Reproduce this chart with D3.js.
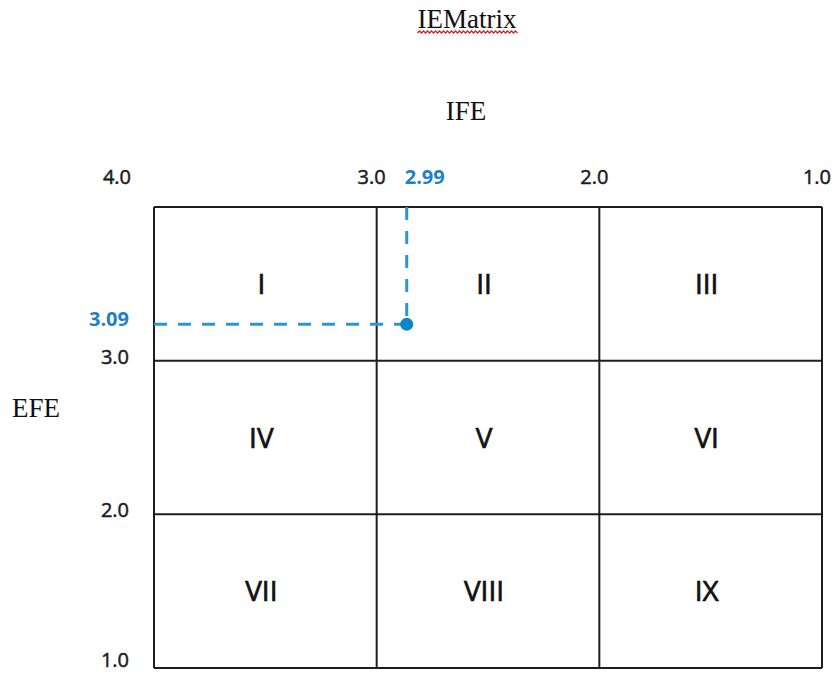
<!DOCTYPE html>
<html>
<head>
<meta charset="utf-8">
<script src="https://cdn.jsdelivr.net/npm/d3@7"></script>
<style>
  body { margin: 0; background: #fff; }
  svg { display: block; }
</style>
</head>
<body>
<svg id="chart"></svg>
<script>
// IE matrix: IFE on x (4 -> 1), EFE on y (1 -> 4)
const gridTicks = [4.0, 3.0, 2.0, 1.0];
const tickLabels = ["4.0", "3.0", "2.0", "1.0"];
const zoneLabels = ["I", "II", "III", "IV", "V", "VI", "VII", "VIII", "IX"];
// dot is drawn where the source puts it; labels carry the stated scores
const pointIFE = [2.865];
const pointEFE = [3.237];
const pointLabels = ["2.99", "3.09"];

const width = 839, height = 673;
const svg = d3.select("#chart").attr("width", width).attr("height", height);

const x = d3.scaleLinear().domain([4, 1]).range([154, 822]);
const y = d3.scaleLinear().domain([1, 4]).range([668, 207]);

const sans = "'Open Sans', 'Noto Sans', sans-serif";
const serif = "'Liberation Serif', 'DejaVu Serif', serif";
const blue = "#1f80c6";

// title with the spell-check squiggle
const title = svg.append("text")
    .attr("x", 467).attr("y", 28)
    .attr("text-anchor", "middle")
    .attr("font-family", serif).attr("font-size", 27)
    .attr("fill", "#111")
    .text("IEMatrix");
const tb = title.node().getBBox();
let wave = `M${tb.x},33`;
for (let i = 0, px = tb.x; px < tb.x + tb.width; i++) {
    px += 2;
    wave += ` L${px},${i % 2 ? 33 : 31}`;
}
svg.append("path").attr("d", wave)
    .attr("fill", "none").attr("stroke", "#e0201e").attr("stroke-width", 1.3);

svg.append("text")
    .attr("x", 466).attr("y", 120)
    .attr("text-anchor", "middle")
    .attr("font-family", serif).attr("font-size", 27)
    .attr("fill", "#111")
    .text("IFE");

svg.append("text")
    .attr("x", 12).attr("y", 417)
    .attr("font-family", serif).attr("font-size", 27)
    .attr("fill", "#111")
    .text("EFE");

// grid
const grid = svg.append("g").attr("stroke", "#1e1e1e").attr("stroke-width", 2);
grid.selectAll(".v").data(gridTicks).enter().append("line")
    .attr("x1", d => x(d)).attr("x2", d => x(d))
    .attr("y1", y(4)).attr("y2", y(1));
grid.selectAll(".h").data(gridTicks).enter().append("line")
    .attr("x1", x(4)).attr("x2", x(1))
    .attr("y1", d => y(d)).attr("y2", d => y(d));

// top tick labels (the 4.0 corner label sits in the left label column)
svg.selectAll(".xtick").data(gridTicks).enter().append("text")
    .attr("x", (d, i) => i === 0 ? 131 : x(d) + 9)
    .attr("y", 184)
    .attr("text-anchor", "end")
    .attr("font-family", sans).attr("font-size", 20)
    .attr("fill", "#1c1c24").attr("stroke", "#1c1c24").attr("stroke-width", 0.5)
    .text((d, i) => tickLabels[i]);

// left tick labels
svg.selectAll(".ytick").data(gridTicks.slice(1)).enter().append("text")
    .attr("x", 129)
    .attr("y", d => Math.min(y(d) + 3, 667))
    .attr("text-anchor", "end")
    .attr("font-family", sans).attr("font-size", 20)
    .attr("fill", "#1c1c24").attr("stroke", "#1c1c24").attr("stroke-width", 0.5)
    .text((d, i) => tickLabels[i + 1]);

// zone numerals
const cols = [[4, 3], [3, 2], [2, 1]];
const rows = [[4, 3], [3, 2], [2, 1]];
svg.selectAll(".zone").data(zoneLabels).enter().append("text")
    .attr("x", (d, i) => x(d3.mean(cols[i % 3])) - 4)
    .attr("y", (d, i) => y(d3.mean(rows[Math.floor(i / 3)])) + 10)
    .attr("text-anchor", "middle")
    .attr("font-family", sans).attr("font-size", 28)
    .attr("fill", "#111").attr("stroke", "#111").attr("stroke-width", 0.7)
    .text(d => d);

// position marker
const px = x(pointIFE[0]), py = y(pointEFE[0]);
svg.append("line")
    .attr("x1", x(4)).attr("x2", px)
    .attr("y1", py).attr("y2", py)
    .attr("stroke", "#2b96d6").attr("stroke-width", 3)
    .attr("stroke-dasharray", "13,11");
svg.append("line")
    .attr("x1", px).attr("x2", px)
    .attr("y1", y(4)).attr("y2", py)
    .attr("stroke", "#2b96d6").attr("stroke-width", 3)
    .attr("stroke-dasharray", "13,11");
svg.append("circle")
    .attr("cx", px).attr("cy", py).attr("r", 6.5)
    .attr("fill", "#0d85cc");

svg.append("text")
    .attr("x", px - 2).attr("y", 184)
    .attr("font-family", sans).attr("font-size", 20).attr("font-weight", 700)
    .attr("fill", blue)
    .text(pointLabels[0]);
svg.append("text")
    .attr("x", 129).attr("y", py + 2)
    .attr("text-anchor", "end")
    .attr("font-family", sans).attr("font-size", 20).attr("font-weight", 700)
    .attr("fill", blue)
    .text(pointLabels[1]);
</script>
</body>
</html>
